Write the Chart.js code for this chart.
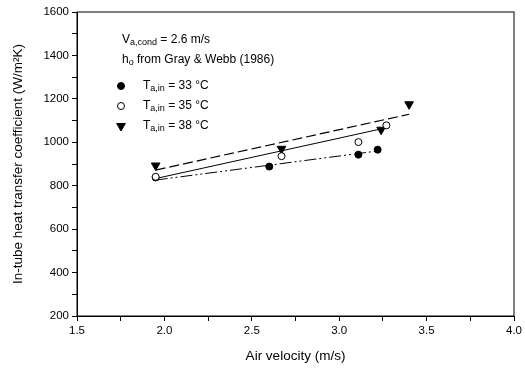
<!DOCTYPE html>
<html>
<head>
<meta charset="utf-8">
<script src="https://cdn.jsdelivr.net/npm/chart.js@4"></script>
<style>
  html, body { margin: 0; padding: 0; background: #fff; }
  #wrap { width: 525px; height: 368px; }
</style>
</head>
<body>
<div id="wrap"><canvas id="chart"></canvas></div>
<script>
// measured points
const velocity33 = [1.95, 2.60, 3.11, 3.22];
const h33 = [838, 888, 943, 966];
const velocity35 = [1.95, 2.67, 3.11, 3.27];
const h35 = [841, 936, 1001, 1078];
const velocity38 = [1.95, 2.67, 3.24, 3.40];
const h38 = [893, 970, 1058, 1175];

// fitted lines (end points)
const fitX33 = [1.95, 3.22];
const fitY33 = [826, 960];
const fitX35 = [1.95, 3.27];
const fitY35 = [833, 1067];
const fitX38 = [1.95, 3.40];
const fitY38 = [872, 1129];

const seriesLabels = ['33', '35', '38'];

const toXY = (xs, ys) => xs.map((x, i) => ({ x: x, y: ys[i] }));
const FONT = '"Liberation Sans", Arial, sans-serif';

// text with subscripts
function drawRich(ctx, parts, x, y) {
  let cx = x;
  parts.forEach(([txt, kind]) => {
    const size = kind === 'n' ? 12 : 9;
    ctx.font = size + 'px ' + FONT;
    const dy = kind === 'sub' ? 3 : kind === 'sup' ? -4 : 0;
    ctx.fillText(txt, cx, y + dy);
    cx += ctx.measureText(txt).width;
  });
}

const annotations = {
  id: 'annotations',
  afterDraw(chart) {
    const ctx = chart.ctx;
    const a = chart.chartArea;
    ctx.save();
    ctx.strokeStyle = '#000';
    ctx.lineWidth = 1;
    ctx.strokeRect(a.left, a.top, a.right - a.left, a.bottom - a.top);

    ctx.fillStyle = '#000';
    ctx.textBaseline = 'middle';
    ctx.textAlign = 'left';
    drawRich(ctx, [['V', 'n'], ['a,cond', 'sub'], [' = 2.6 m/s', 'n']], 122, 40);
    drawRich(ctx, [['h', 'n'], ['o', 'sub'], [' from Gray & Webb (1986)', 'n']], 122, 60);

    const styles = [
      { pointStyle: 'circle', radius: 3.5, fill: '#000', rot: 0 },
      { pointStyle: 'circle', radius: 3.5, fill: '#fff', rot: 0 },
      { pointStyle: 'triangle', radius: 5, fill: '#000', rot: 180 }
    ];
    seriesLabels.forEach((t, i) => {
      const y = 86 + i * 20;
      const s = styles[i];
      ctx.fillStyle = s.fill;
      ctx.strokeStyle = '#000';
      ctx.lineWidth = 1;
      Chart.helpers.drawPoint(ctx, { pointStyle: s.pointStyle, radius: s.radius, rotation: s.rot, borderWidth: 1 }, 121, y);
      ctx.fillStyle = '#000';
      drawRich(ctx, [['T', 'n'], ['a,in', 'sub'], [' = ' + t + ' \u00B0C', 'n']], 143, y);
    });
    ctx.restore();
  }
};

const ctx = document.getElementById('chart').getContext('2d');

new Chart(ctx, {
  type: 'scatter',
  data: {
    datasets: [
      {
        data: toXY(velocity35, h35),
        pointStyle: 'circle',
        pointRadius: 3.5,
        backgroundColor: '#fff',
        borderColor: '#000',
        borderWidth: 1,
        showLine: false
      },
      {
        data: toXY(velocity33, h33),
        pointStyle: 'circle',
        pointRadius: 3.5,
        backgroundColor: '#000',
        borderColor: '#000',
        borderWidth: 1,
        showLine: false
      },
      {
        data: toXY(velocity38, h38),
        pointStyle: 'triangle',
        pointRotation: 180,
        pointRadius: 5,
        backgroundColor: '#000',
        borderColor: '#000',
        borderWidth: 1,
        showLine: false
      },
      {
        data: toXY(fitX33, fitY33),
        showLine: true,
        pointRadius: 0,
        borderColor: '#000',
        borderWidth: 1,
        borderDash: [12, 3, 2, 3, 2, 3]
      },
      {
        data: toXY(fitX35, fitY35),
        showLine: true,
        pointRadius: 0,
        borderColor: '#000',
        borderWidth: 1
      },
      {
        data: toXY(fitX38, fitY38),
        showLine: true,
        pointRadius: 0,
        borderColor: '#000',
        borderWidth: 1.2,
        borderDash: [10, 4]
      }
    ]
  },
  options: {
    responsive: true,
    maintainAspectRatio: false,
    animation: false,
    layout: { padding: { top: 12, right: 11, left: 0, bottom: 0 } },
    plugins: {
      legend: { display: false },
      tooltip: { enabled: false }
    },
    scales: {
      x: {
        type: 'linear',
        min: 1.5,
        max: 4.0,
        afterFit: (s) => { s.height = 52; },
        ticks: {
          stepSize: 0.25,
          autoSkip: false,
          maxRotation: 0,
          color: '#000',
          font: { family: FONT, size: 11.5 },
          padding: 3,
          callback: (v) => (Math.abs(v * 2 - Math.round(v * 2)) < 1e-6 ? v.toFixed(1) : '')
        },
        grid: { drawOnChartArea: false, drawTicks: true, tickLength: 5, color: '#000' },
        border: { display: true, color: '#000', width: 1 },
        title: {
          display: true,
          text: 'Air velocity (m/s)',
          color: '#000',
          font: { family: FONT, size: 13.5 },
          padding: { top: 4 }
        }
      },
      y: {
        min: 200,
        max: 1600,
        afterFit: (s) => { s.width = 77; },
        ticks: {
          stepSize: 100,
          autoSkip: false,
          color: '#000',
          font: { family: FONT, size: 11.5 },
          padding: 3,
          callback: (v) => (v % 200 === 0 ? String(v) : '')
        },
        grid: { drawOnChartArea: false, drawTicks: true, tickLength: 5, color: '#000' },
        border: { display: true, color: '#000', width: 1 },
        title: {
          display: true,
          text: 'In-tube heat transfer coefficient (W/m\u00B2K)',
          color: '#000',
          font: { family: FONT, size: 13.5 },
          padding: { top: 10, bottom: 0 }
        }
      }
    }
  },
  plugins: [annotations]
});
</script>
</body>
</html>
